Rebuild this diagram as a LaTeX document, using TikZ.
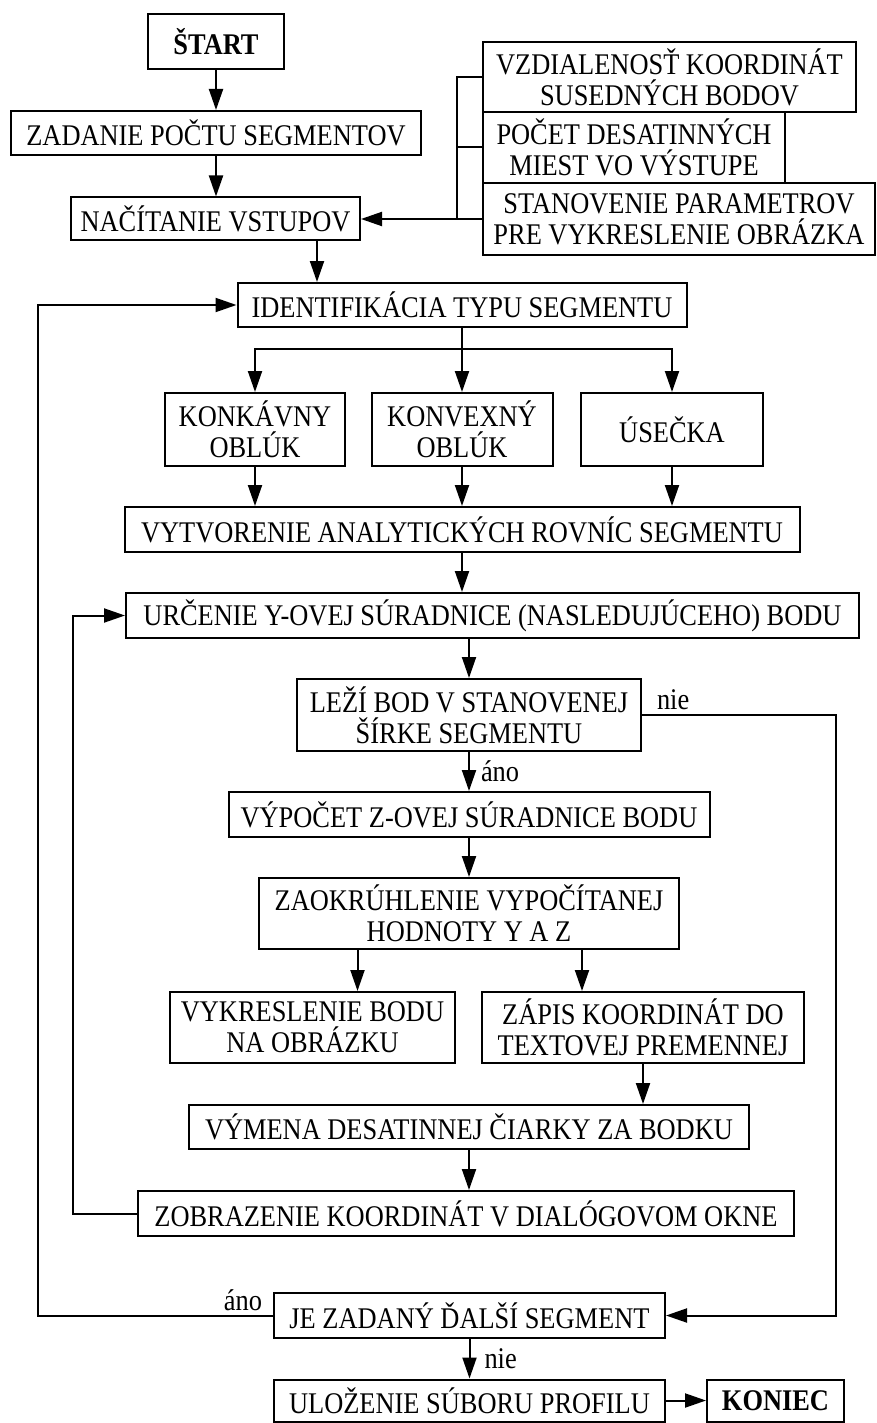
\documentclass[tikz,border=0pt]{standalone}
\usepackage{fontspec}
\setmainfont{Liberation Serif}[FakeStretch=0.88]
\usetikzlibrary{arrows.meta}

\begin{document}
\begin{tikzpicture}[x=1pt,y=-1pt,line width=2pt,
        font=\fontsize{30}{31}\selectfont,
        box/.style={draw,rectangle,align=center,inner sep=1pt},
        dims/.style 2 args={minimum width=#1pt,minimum height=#2pt},
        lbl/.style={inner sep=4pt},
        arr/.style={-{Triangle[length=21pt,width=14pt]}}]
        \useasboundingbox (0,0) rectangle (877,1423);
        % \draw[help lines,step=50] (0,0) grid (877,1423);
        \node[box,dims={136}{55},font=\fontsize{30}{31}\selectfont\bfseries] (start) at (216,41.5) {ŠTART};
        \node[box,dims={410}{44}] (zadanie) at (216,133) {ZADANIE POČTU SEGMENTOV};
        \node[box,dims={289}{43}] (nacitanie) at (215.5,219) {NAČÍTANIE VSTUPOV};
        \node[box,dims={373}{70}] (vzdial) at (669.5,77) {VZDIALENOSŤ KOORDINÁT\\SUSEDNÝCH BODOV};
        \node[box,dims={302}{71}] (pocet) at (634,147.5) {POČET DESATINNÝCH\\MIEST VO VÝSTUPE};
        \node[box,dims={392}{72}] (stanov) at (679,219) {STANOVENIE PARAMETROV\\PRE VYKRESLENIE OBRÁZKA};
        \node[box,dims={449}{44}] (ident) at (462,305) {IDENTIFIKÁCIA TYPU SEGMENTU};
        \node[box,dims={180}{73}] (konk) at (255,429.5) {KONKÁVNY\\OBLÚK};
        \node[box,dims={181}{73}] (konv) at (462,429.5) {KONVEXNÝ\\OBLÚK};
        \node[box,dims={182}{73}] (usecka) at (672,429.5) {ÚSEČKA};
        \node[box,dims={675}{45}] (vytvor) at (462,529.5) {VYTVORENIE ANALYTICKÝCH ROVNÍC SEGMENTU};
        \node[box,dims={733}{45}] (urcenie) at (492.5,615.5) {URČENIE Y-OVEJ SÚRADNICE (NASLEDUJÚCEHO) BODU};
        \node[box,dims={344}{72}] (lezi) at (469,715) {LEŽÍ BOD V STANOVENEJ\\ŠÍRKE SEGMENTU};
        \node[box,dims={481}{45}] (vypocet) at (469,814.5) {VÝPOČET Z-OVEJ SÚRADNICE BODU};
        \node[box,dims={420}{71}] (zaokr) at (469,913.5) {ZAOKRÚHLENIE VYPOČÍTANEJ\\HODNOTY Y A Z};
        \node[box,dims={285}{71}] (vykresl) at (312.5,1027.5) {VYKRESLENIE BODU\\NA OBRÁZKU};
        \node[box,dims={322}{71}] (zapis) at (643,1027.5) {ZÁPIS KOORDINÁT DO\\TEXTOVEJ PREMENNEJ};
        \node[box,dims={560}{44}] (vymena) at (469,1127) {VÝMENA DESATINNEJ ČIARKY ZA BODKU};
        \node[box,dims={656}{45}] (zobraz) at (466,1213.5) {ZOBRAZENIE KOORDINÁT V DIALÓGOVOM OKNE};
        \node[box,dims={391}{45}] (je) at (469.5,1315.5) {JE ZADANÝ ĎALŠÍ SEGMENT};
        \node[box,dims={391}{42}] (ulozenie) at (469.5,1400.5) {ULOŽENIE SÚBORU PROFILU};
        \node[box,dims={137}{42},font=\fontsize{30}{31}\selectfont\bfseries] (koniec) at (775.5,1400.5) {KONIEC};
        \coordinate (x1) at (317,0);
        \coordinate (br) at (457,0);
        \coordinate (split) at (462,349);
        \coordinate (xa) at (357.5,0);
        \coordinate (xb) at (582,0);
        \coordinate (lp) at (73,0);
        \coordinate (lq) at (37.7,0);
        \coordinate (rp) at (836,0);
        \draw[arr] (start) -- (zadanie);
        \draw[arr] (zadanie.south) -- (zadanie.south |- nacitanie.north);
        \draw[arr] (nacitanie.south -| x1) -- (ident.north -| x1);
        \draw (vzdial.west) -- (vzdial.west -| br) -- (stanov.west -| br) -- (stanov.west);
        \draw (pocet.west) -- (pocet.west -| br);
        \draw[arr] (stanov.west -| br) -- (nacitanie.east);
        \draw[arr] (ident) -- (konv);
        \draw[arr] (split) -| (konk.north);
        \draw[arr] (split) -| (usecka.north);
        \draw[arr] (konk.south) -- (konk.south |- vytvor.north);
        \draw[arr] (konv) -- (vytvor);
        \draw[arr] (usecka.south) -- (usecka.south |- vytvor.north);
        \draw[arr] (vytvor.south) -- (vytvor.south |- urcenie.north);
        \draw[arr] (urcenie.south -| lezi.north) -- (lezi.north);
        \draw[arr] (lezi) -- node[lbl,right,xshift=7pt] {áno} (vypocet);
        \draw[arr] (vypocet) -- (zaokr);
        \draw[arr] (zaokr.south -| xa) -- (vykresl.north -| xa);
        \draw[arr] (zaokr.south -| xb) -- (zapis.north -| xb);
        \draw[arr] (zapis.south) -- (zapis.south |- vymena.north);
        \draw[arr] (vymena.south) -- (vymena.south |- zobraz.north);
        \draw[arr] (zobraz.west) -| (lp |- urcenie.west) -- (urcenie.west);
        \draw[arr] (lezi.east) node[lbl,anchor=south west,xshift=10pt] {nie} -| (rp |- je.east) -- (je.east);
        \draw[arr] (je.west) node[lbl,anchor=south east,xshift=-6pt] {áno} -| (lq |- ident.west) -- (ident.west);
        \draw[arr] (je) -- node[lbl,right,xshift=10pt] {nie} (ulozenie);
        \draw[arr] (ulozenie) -- (koniec);
\end{tikzpicture}
\end{document}
